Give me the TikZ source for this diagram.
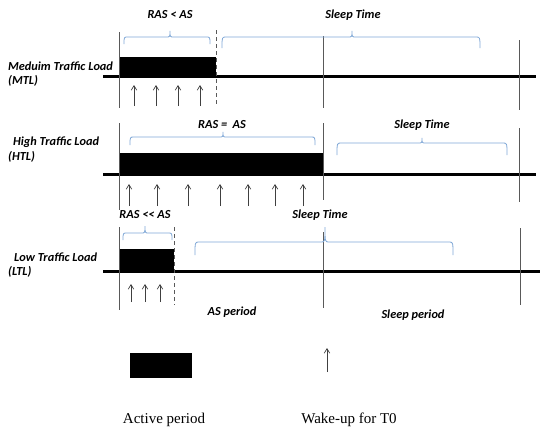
\documentclass[tikz,border=0pt]{standalone}
\usepackage{fontspec}
\setmainfont{Liberation Serif}
\newfontfamily\calib{Carlito}
\usetikzlibrary{arrows.meta}
\definecolor{bracecol}{HTML}{7FA7D6}
% bracket: x1, x2, xm (tip), y of ends, y of bar, y of tip
\newcommand\timebrace[6]{%
  \draw[brc] (#1,#4) .. controls (#1,#5) .. (#1+4,#5) -- (#3-4,#5)
    .. controls (#3,#5) .. (#3,#6) .. controls (#3,#5) .. (#3+4,#5)
    -- (#2-4,#5) .. controls (#2,#5) .. (#2,#4);}
\begin{document}
\begin{tikzpicture}[x=1pt,y=-1pt,
  lbl/.style={font=\calib\bfseries\itshape\fontsize{12.3}{14}\selectfont, inner sep=0pt},
  rowlbl/.style={lbl, anchor=west},
  axis/.style={line width=3pt, black},
  tick/.style={line width=0.9pt, black!65},
  dashtick/.style={tick, dash pattern=on 3.5pt off 3.5pt},
  wake/.style={line width=0.7pt, black!75, -{Straight Barb[length=4.5pt,width=5.5pt]}},
  brc/.style={draw=bracecol, line width=0.8pt},
  bar/.style={fill=black, draw=none},
  legend/.style={font=\fontsize{15}{17}\selectfont, inner sep=0pt},
]
\useasboundingbox (0,0) rectangle (540,432);

% ---------------- Medium traffic load ----------------
\node[rowlbl] (mtl1) at (8,66) {Meduim Traffic Load};
\node[rowlbl] (mtl2) at (8,81) {(MTL)};
\fill[bar] (119,57) rectangle (216,75);
\draw[axis] (103,76) -- (536,76);
\draw[tick] (119,32) -- (119,108);
\draw[dashtick] (216,30) -- (216,107);
\draw[tick] (323,36) -- (323,108);
\draw[tick] (519,40) -- (519,110);
\foreach \x in {134,156,178,200} \draw[wake] (\x,106) -- (\x,85);
\timebrace{124}{210}{170}{44}{37}{31}
\timebrace{222}{480}{352}{48}{37}{31}
\node[lbl] (mras) at (170,15) {RAS < AS};
\node[lbl] (msleep) at (353,15) {Sleep Time};

% ---------------- High traffic load ----------------
\node[rowlbl] (htl1) at (13,142) {High Traffic Load};
\node[rowlbl] (htl2) at (8,157) {(HTL)};
\fill[bar] (119,153) rectangle (323,173);
\draw[axis] (103,174) -- (536,174);
\draw[tick] (119,123) -- (119,210);
\draw[tick] (323,123) -- (323,200);
\draw[tick] (519,128) -- (519,202);
\foreach \x in {129,157,188,220,248,275,303} \draw[wake] (\x,206) -- (\x,184);
\timebrace{130}{315}{223}{145}{137}{132}
\timebrace{337}{507}{422}{155}{143}{138}
\node[lbl] (hras) at (222,125) {RAS =\ \ AS};
\node[lbl] (hsleep) at (422,125) {Sleep Time};

% ---------------- Low traffic load ----------------
\node[rowlbl] (ltl1) at (14,257) {Low Traffic Load};
\node[rowlbl] (ltl2) at (8,272) {(LTL)};
\fill[bar] (119,249) rectangle (174,270);
\draw[axis] (103,271) -- (540,271);
\draw[tick] (119,227) -- (119,310);
\draw[dashtick] (174,227) -- (174,305);
\draw[tick] (323,232) -- (323,308);
\draw[tick] (520,228) -- (520,305);
\foreach \x in {131,145,160} \draw[wake] (\x,302) -- (\x,284);
\timebrace{123}{172}{145}{240}{233}{226}
\timebrace{195}{453}{325}{255}{242}{227}
\node[lbl] (lras) at (145,215) {RAS << AS};
\node[lbl] (lsleep) at (320,215) {Sleep Time};
\node[lbl] (asp) at (232,312) {AS period};
\node[lbl] (slp) at (413,315) {Sleep period};

% ---------------- Legend ----------------
\fill[bar] (130,353) rectangle (192,378);
\draw[wake] (327,372) -- (327,348);
\node[legend] (lgact) at (164,420) {Active period};
\node[legend] (lgwake) at (349,420) {Wake-up for T0};
\end{tikzpicture}
\end{document}
